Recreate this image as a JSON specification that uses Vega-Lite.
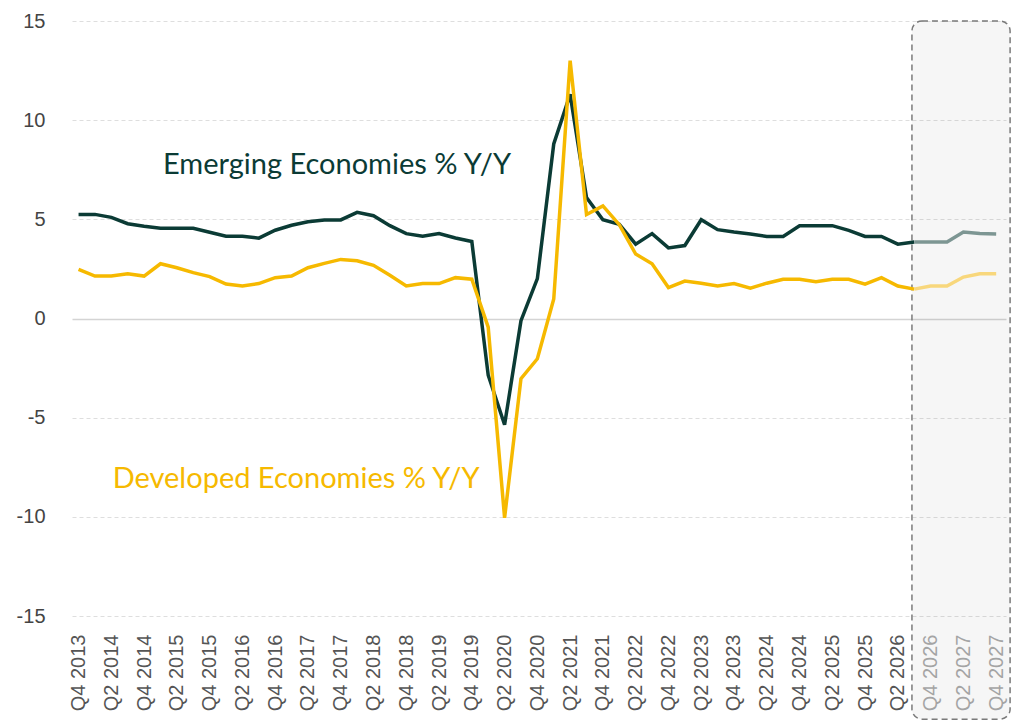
{
  "$schema": "https://vega.github.io/schema/vega-lite/v6.json",
  "width": 934,
  "height": 595,
  "autosize": {"type": "none"},
  "padding": {"left": 72, "top": 21, "right": 6, "bottom": 107},
  "config": {
    "view": {"stroke": null},
    "font": "Liberation Sans",
    "axis": {"labelOverlap": false, "labelFlush": false, "labelBound": false, "ticks": false, "domain": false, "labelFontSize": 20},
    "axisX": {"labelAngle": -90, "labelPadding": 18, "grid": false, "labelOverlap": false},
    "axisY": {"labelPadding": 27, "labelColor": "#444444", "grid": true}
  },
  "datasets": {
    "band": [{"q": 50.86, "q2": 56.85, "v": 15, "v2": -20.2}],
    "main": [
      {"q": 0, "period": "Q4 2013", "em": 5.25, "dev": 2.48},
      {"q": 1, "period": "Q1 2014", "em": 5.25, "dev": 2.14},
      {"q": 2, "period": "Q2 2014", "em": 5.1, "dev": 2.14},
      {"q": 3, "period": "Q3 2014", "em": 4.78, "dev": 2.26},
      {"q": 4, "period": "Q4 2014", "em": 4.65, "dev": 2.14},
      {"q": 5, "period": "Q1 2015", "em": 4.55, "dev": 2.76},
      {"q": 6, "period": "Q2 2015", "em": 4.55, "dev": 2.56},
      {"q": 7, "period": "Q3 2015", "em": 4.55, "dev": 2.31},
      {"q": 8, "period": "Q4 2015", "em": 4.35, "dev": 2.11},
      {"q": 9, "period": "Q1 2016", "em": 4.15, "dev": 1.74},
      {"q": 10, "period": "Q2 2016", "em": 4.15, "dev": 1.64},
      {"q": 11, "period": "Q3 2016", "em": 4.05, "dev": 1.76},
      {"q": 12, "period": "Q4 2016", "em": 4.45, "dev": 2.06},
      {"q": 13, "period": "Q1 2017", "em": 4.7, "dev": 2.14},
      {"q": 14, "period": "Q2 2017", "em": 4.88, "dev": 2.56},
      {"q": 15, "period": "Q3 2017", "em": 4.97, "dev": 2.78},
      {"q": 16, "period": "Q4 2017", "em": 4.97, "dev": 2.98},
      {"q": 17, "period": "Q1 2018", "em": 5.35, "dev": 2.91},
      {"q": 18, "period": "Q2 2018", "em": 5.18, "dev": 2.68},
      {"q": 19, "period": "Q3 2018", "em": 4.68, "dev": 2.18},
      {"q": 20, "period": "Q4 2018", "em": 4.28, "dev": 1.64},
      {"q": 21, "period": "Q1 2019", "em": 4.15, "dev": 1.76},
      {"q": 22, "period": "Q2 2019", "em": 4.28, "dev": 1.76},
      {"q": 23, "period": "Q3 2019", "em": 4.06, "dev": 2.06},
      {"q": 24, "period": "Q4 2019", "em": 3.88, "dev": 1.98},
      {"q": 25, "period": "Q1 2020", "em": -2.86, "dev": -0.44},
      {"q": 26, "period": "Q2 2020", "em": -5.36, "dev": -10.05},
      {"q": 27, "period": "Q3 2020", "em": -0.11, "dev": -3.03},
      {"q": 28, "period": "Q4 2020", "em": 2.01, "dev": -2.03},
      {"q": 29, "period": "Q1 2021", "em": 8.8, "dev": 0.98},
      {"q": 30, "period": "Q2 2021", "em": 11.3, "dev": 13.0},
      {"q": 31, "period": "Q3 2021", "em": 6.1, "dev": 5.24},
      {"q": 32, "period": "Q4 2021", "em": 4.98, "dev": 5.68},
      {"q": 33, "period": "Q1 2022", "em": 4.75, "dev": 4.73},
      {"q": 34, "period": "Q2 2022", "em": 3.75, "dev": 3.25},
      {"q": 35, "period": "Q3 2022", "em": 4.28, "dev": 2.76},
      {"q": 36, "period": "Q4 2022", "em": 3.56, "dev": 1.56},
      {"q": 37, "period": "Q1 2023", "em": 3.68, "dev": 1.89},
      {"q": 38, "period": "Q2 2023", "em": 4.98, "dev": 1.78},
      {"q": 39, "period": "Q3 2023", "em": 4.48, "dev": 1.64},
      {"q": 40, "period": "Q4 2023", "em": 4.36, "dev": 1.76},
      {"q": 41, "period": "Q1 2024", "em": 4.26, "dev": 1.53},
      {"q": 42, "period": "Q2 2024", "em": 4.14, "dev": 1.78},
      {"q": 43, "period": "Q3 2024", "em": 4.14, "dev": 1.98},
      {"q": 44, "period": "Q4 2024", "em": 4.68, "dev": 1.98},
      {"q": 45, "period": "Q1 2025", "em": 4.68, "dev": 1.86},
      {"q": 46, "period": "Q2 2025", "em": 4.68, "dev": 1.98},
      {"q": 47, "period": "Q3 2025", "em": 4.44, "dev": 1.98},
      {"q": 48, "period": "Q4 2025", "em": 4.14, "dev": 1.73},
      {"q": 49, "period": "Q1 2026", "em": 4.14, "dev": 2.06},
      {"q": 50, "period": "Q2 2026", "em": 3.75, "dev": 1.64},
      {"q": 51, "period": "Q3 2026", "em": 3.86, "dev": 1.48},
      {"q": 52, "period": "Q4 2026", "em": 3.86, "dev": 1.64},
      {"q": 53, "period": "Q1 2027", "em": 3.86, "dev": 1.64},
      {"q": 54, "period": "Q2 2027", "em": 4.36, "dev": 2.09},
      {"q": 55, "period": "Q3 2027", "em": 4.28, "dev": 2.26},
      {"q": 56, "period": "Q4 2027", "em": 4.26, "dev": 2.26}
    ],
    "labels": [
      {"label": "Emerging Economies % Y/Y", "q": 5.15, "v": 7.29, "s": "em"},
      {"label": "Developed Economies % Y/Y", "q": 2.08, "v": -8.56, "s": "dev"}
    ]
  },
  "encoding": {
    "x": {
      "field": "q", "type": "quantitative", "title": null,
      "scale": {"domain": [-0.4, 56.6], "nice": false, "zero": false},
      "axis": {
        "values": [0, 2, 4, 6, 8, 10, 12, 14, 16, 18, 20, 22, 24, 26, 28, 30, 32, 34, 36, 38, 40, 42, 44, 46, 48, 50, 52, 54, 56],
        "labelExpr": "'Q' + ((datum.value + 3) % 4 + 1) + ' ' + (2013 + floor((datum.value + 3) / 4))",
        "labelColor": {"condition": {"test": "datum.value >= 52", "value": "#ababab"}, "value": "#555555"},
        "labelOverlap": false,
        "labelAngle": -90,
        "labelAlign": "right",
        "labelBaseline": "middle"
      }
    },
    "y": {
      "field": "v", "type": "quantitative", "title": null,
      "scale": {"domain": [-15, 15], "nice": false, "zero": false},
      "axis": {
        "values": [-15, -10, -5, 0, 5, 10, 15],
        "labelExpr": "'' + datum.value",
        "gridColor": {"condition": {"test": "datum.value === 0", "value": "#d4d4d4"}, "value": "#dedede"},
        "gridDash": {"condition": {"test": "datum.value === 0", "value": []}, "value": [4, 3]},
        "gridWidth": {"condition": {"test": "datum.value === 0", "value": 1.6}, "value": 1}
      }
    }
  },
  "layer": [
    {
      "data": {"name": "band"},
      "mark": {"type": "rect", "cornerRadius": 10, "fill": "#000000", "fillOpacity": 0.035, "stroke": "#7a7a7a", "strokeDash": [6, 4], "strokeWidth": 1.5},
      "encoding": {
        "x2": {"field": "q2"},
        "y2": {"field": "v2"}
      }
    },
    {
      "data": {"name": "main"},
      "transform": [{"fold": ["em", "dev"], "as": ["s", "v"]}, {"filter": "datum.s === 'em' && datum.q <= 51"}],
      "mark": {"type": "line", "color": "#0b3b35", "strokeWidth": 3.5}
    },
    {
      "data": {"name": "main"},
      "transform": [{"fold": ["em", "dev"], "as": ["s", "v"]}, {"filter": "datum.s === 'em' && datum.q >= 51"}],
      "mark": {"type": "line", "color": "#7d9693", "strokeWidth": 3.5}
    },
    {
      "data": {"name": "main"},
      "transform": [{"fold": ["em", "dev"], "as": ["s", "v"]}, {"filter": "datum.s === 'dev' && datum.q <= 51"}],
      "mark": {"type": "line", "color": "#f6b900", "strokeWidth": 3.5}
    },
    {
      "data": {"name": "main"},
      "transform": [{"fold": ["em", "dev"], "as": ["s", "v"]}, {"filter": "datum.s === 'dev' && datum.q >= 51"}],
      "mark": {"type": "line", "color": "#f8d77c", "strokeWidth": 3.5}
    },
    {
      "data": {"name": "labels"},
      "mark": {"type": "text", "align": "left", "baseline": "alphabetic", "fontSize": 29, "font": "Lato"},
      "encoding": {
        "text": {"field": "label"},
        "color": {"field": "s", "type": "nominal", "legend": null, "scale": {"domain": ["em", "dev"], "range": ["#0b3b35", "#f6b900"]}}
      }
    }
  ]
}
